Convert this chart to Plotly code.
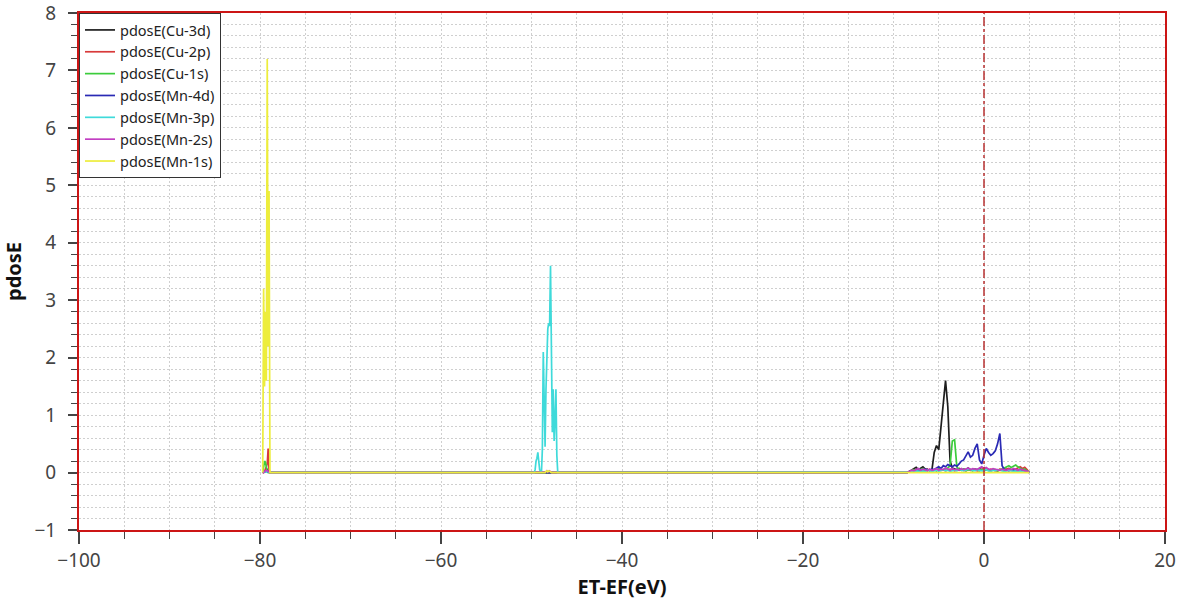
import plotly.graph_objects as go

# ---------------- data ----------------
SERIES_NAMES = ["pdosE(Cu-3d)", "pdosE(Cu-2p)", "pdosE(Cu-1s)", "pdosE(Mn-4d)",
                "pdosE(Mn-3p)", "pdosE(Mn-2s)", "pdosE(Mn-1s)"]
SERIES_COLORS = ["#1e1e1e", "#d83a3a", "#3ccc3c", "#2a2ab4", "#3fdada", "#c23fc2", "#eded3c"]

FERMI_LEVEL = 0.0

# deep core region energies (eV)
E_DEEP = [-79.7, -79.6, -79.5, -79.4, -79.3, -79.2, -79.1, -79.0, -78.9]
# semi-core region energies (eV)
E_SEMI = [-49.7, -49.6, -49.5, -49.4, -49.3, -49.2, -49.1, -49.0, -48.9, -48.8,
          -48.7, -48.6, -48.5, -48.4, -48.3, -48.2, -48.1, -48.0, -47.9, -47.8,
          -47.7, -47.6, -47.5, -47.4, -47.3, -47.2, -47.1, -47.0]
# valence region energies (eV)
E_VB = [-8.5, -8.25, -8.0, -7.75, -7.5, -7.25, -7.0, -6.75, -6.5, -6.25, -6.0,
        -5.75, -5.5, -5.25, -5.0, -4.75, -4.5, -4.25, -4.0, -3.75, -3.5, -3.25,
        -3.0, -2.75, -2.5, -2.25, -2.0, -1.75, -1.5, -1.25, -1.0, -0.75, -0.5,
        -0.25, 0.0, 0.25, 0.5, 0.75, 1.0, 1.25, 1.5, 1.75, 2.0, 2.25, 2.5, 2.75,
        3.0, 3.25, 3.5, 3.75, 4.0, 4.25, 4.5, 4.75, 5.0]

cu3d_deep = [0.0, 0.0, 0.01, 0.02, 0.03, 0.05, 0.02, 0.0, 0.0]
cu2p_deep = [0.0, 0.0, 0.02, 0.05, 0.1, 0.15, 0.42, 0.05, 0.0]
cu1s_deep = [0.0, 0.1, 0.2, 0.18, 0.05, 0.02, 0.0, 0.0, 0.0]
mn4d_deep = [0.0, 0.0, 0.01, 0.02, 0.03, 0.02, 0.01, 0.0, 0.0]
mn3p_deep = [0.0, 0.0, 0.01, 0.02, 0.01, 0.02, 0.01, 0.0, 0.0]
mn2s_deep = [0.0, 0.0, 0.02, 0.03, 0.04, 0.03, 0.02, 0.0, 0.0]
mn1s_deep = [0.0, 3.2, 1.5, 2.8, 1.6, 7.2, 2.2, 4.9, 0.0]

cu3d_semi = [0.0] * 28
cu2p_semi = [0.0] * 28
cu1s_semi = [0.0] * 28
mn4d_semi = [0.0] * 28
mn3p_semi = [0.0, 0.05, 0.2, 0.25, 0.35, 0.12, 0.05, 0.02, 0.0, 0.4,
             2.1, 1.3, 0.45, 1.45, 2.1, 2.5, 2.6, 2.55, 3.6, 2.0,
             0.7, 1.45, 0.55, 0.9, 1.45, 0.3, 0.0, 0.0]
mn2s_semi = [0.0, 0.0, 0.0, 0.0, 0.0, 0.0, 0.0, 0.0, 0.0, 0.0,
             0.0, 0.0, 0.0, 0.01, 0.03, 0.01, 0.02, 0.03, 0.01, 0.0,
             0.0, 0.0, 0.0, 0.0, 0.0, 0.0, 0.0, 0.0]
mn1s_semi = [0.0, 0.0, 0.0, 0.0, 0.0, 0.0, 0.0, 0.0, 0.0, 0.0,
             0.0, 0.0, 0.0, 0.02, 0.03, 0.01, 0.03, 0.02, 0.0, 0.0,
             0.0, 0.0, 0.0, 0.0, 0.0, 0.0, 0.0, 0.0]

cu3d_vb = [0.0, 0.02, 0.04, 0.06, 0.09, 0.05, 0.08, 0.1, 0.06, 0.05, 0.04,
           0.05, 0.35, 0.47, 0.4, 0.8, 1.22, 1.6, 1.15, 0.2, 0.08, 0.06,
           0.05, 0.07, 0.04, 0.06, 0.05, 0.08, 0.05, 0.04, 0.06, 0.05, 0.07,
           0.04, 0.03, 0.05, 0.04, 0.03, 0.05, 0.04, 0.03, 0.05, 0.04, 0.06,
           0.05, 0.07, 0.04, 0.05, 0.03, 0.04, 0.03, 0.02, 0.03, 0.02, 0.0]
cu2p_vb = [0.0, 0.01, 0.03, 0.05, 0.04, 0.06, 0.03, 0.05, 0.04, 0.06, 0.03,
           0.04, 0.05, 0.03, 0.06, 0.04, 0.05, 0.03, 0.04, 0.06, 0.05, 0.03,
           0.04, 0.06, 0.05, 0.04, 0.03, 0.05, 0.04, 0.06, 0.05, 0.03, 0.04,
           0.06, 0.08, 0.05, 0.04, 0.06, 0.05, 0.03, 0.04, 0.06, 0.05, 0.04,
           0.06, 0.07, 0.05, 0.04, 0.06, 0.08, 0.1, 0.07, 0.09, 0.05, 0.0]
cu1s_vb = [0.0, 0.02, 0.03, 0.05, 0.04, 0.06, 0.05, 0.07, 0.04, 0.03, 0.05,
           0.04, 0.05, 0.03, 0.06, 0.04, 0.05, 0.06, 0.08, 0.12, 0.55, 0.57,
           0.1, 0.05, 0.04, 0.06, 0.03, 0.05, 0.04, 0.03, 0.05, 0.04, 0.03,
           0.05, 0.04, 0.06, 0.05, 0.03, 0.04, 0.05, 0.03, 0.04, 0.06, 0.08,
           0.1, 0.12, 0.09, 0.11, 0.13, 0.1, 0.07, 0.05, 0.06, 0.03, 0.0]
mn4d_vb = [0.0, 0.02, 0.03, 0.02, 0.04, 0.03, 0.05, 0.04, 0.06, 0.05, 0.04,
           0.06, 0.05, 0.08, 0.1, 0.07, 0.12, 0.1, 0.14, 0.12, 0.1, 0.13,
           0.11, 0.15, 0.2, 0.22, 0.28, 0.36, 0.27, 0.3, 0.42, 0.5, 0.22,
           0.15, 0.3, 0.42, 0.35, 0.3, 0.33, 0.38, 0.5, 0.68, 0.12, 0.05,
           0.04, 0.03, 0.05, 0.04, 0.03, 0.02, 0.03, 0.02, 0.01, 0.02, 0.0]
mn3p_vb = [0.0, 0.01, 0.02, 0.01, 0.03, 0.02, 0.02, 0.03, 0.02, 0.04, 0.03,
           0.02, 0.03, 0.04, 0.02, 0.03, 0.05, 0.03, 0.04, 0.02, 0.03, 0.04,
           0.03, 0.05, 0.04, 0.03, 0.04, 0.06, 0.05, 0.04, 0.03, 0.05, 0.04,
           0.03, 0.04, 0.05, 0.03, 0.02, 0.04, 0.03, 0.05, 0.04, 0.03, 0.02,
           0.03, 0.04, 0.03, 0.02, 0.03, 0.02, 0.03, 0.02, 0.01, 0.02, 0.0]
mn2s_vb = [0.0, 0.02, 0.04, 0.03, 0.05, 0.07, 0.04, 0.06, 0.05, 0.03, 0.06,
           0.04, 0.05, 0.07, 0.04, 0.06, 0.05, 0.08, 0.06, 0.04, 0.07, 0.05,
           0.06, 0.04, 0.07, 0.05, 0.06, 0.08, 0.05, 0.07, 0.06, 0.05, 0.08,
           0.1, 0.07, 0.09, 0.06, 0.05, 0.07, 0.06, 0.05, 0.04, 0.06, 0.05,
           0.04, 0.06, 0.05, 0.07, 0.05, 0.04, 0.06, 0.05, 0.03, 0.02, 0.0]
mn1s_vb = [0.0, 0.0, 0.01, 0.0, 0.01, 0.0, 0.01, 0.0, 0.0, 0.01, 0.0,
           0.01, 0.0, 0.0, 0.01, 0.0, 0.01, 0.0, 0.0, 0.01, 0.0, 0.0,
           0.01, 0.0, 0.0, 0.01, 0.0, 0.0, 0.01, 0.0, 0.0, 0.01, 0.0,
           0.0, 0.01, 0.0, 0.0, 0.01, 0.0, 0.0, 0.01, 0.0, 0.0, 0.01,
           0.0, 0.0, 0.01, 0.0, 0.0, 0.01, 0.0, 0.0, 0.01, 0.0, 0.0]

X_TICKS = [-100, -80, -60, -40, -20, 0, 20]
Y_TICKS = [-1, 0, 1, 2, 3, 4, 5, 6, 7, 8]

# ---------------- figure ----------------
energy = E_DEEP + E_SEMI + E_VB
series_values = [
    cu3d_deep + cu3d_semi + cu3d_vb,
    cu2p_deep + cu2p_semi + cu2p_vb,
    cu1s_deep + cu1s_semi + cu1s_vb,
    mn4d_deep + mn4d_semi + mn4d_vb,
    mn3p_deep + mn3p_semi + mn3p_vb,
    mn2s_deep + mn2s_semi + mn2s_vb,
    mn1s_deep + mn1s_semi + mn1s_vb,
]

fig = go.Figure()
for name, color, vals in zip(SERIES_NAMES, SERIES_COLORS, series_values):
    assert len(vals) == len(energy), name
    fig.add_trace(go.Scatter(
        x=energy, y=vals, mode="lines", name=name,
        line=dict(color=color, width=1.7),
    ))

fig.add_shape(type="line", xref="x", yref="paper",
              x0=FERMI_LEVEL, x1=FERMI_LEVEL, y0=0, y1=1,
              line=dict(color="#b83232", width=1.5, dash="dashdot"))

FONT = "Noto Sans, Open Sans, DejaVu Sans, sans-serif"
GRID = "#cfcfcf"
FRAME = "#cc1515"

fig.update_layout(
    width=1183, height=609,
    margin=dict(l=79, r=18, t=13, b=79),
    paper_bgcolor="white", plot_bgcolor="white",
    font=dict(family=FONT, color="#444"),
    showlegend=True,
    legend=dict(
        x=0, y=1, xanchor="left", yanchor="top",
        bgcolor="white", bordercolor="#333", borderwidth=1,
        font=dict(family=FONT, size=14.5, color="#222"),
        tracegroupgap=0,
    ),
    xaxis=dict(
        range=[-100, 20], tickvals=X_TICKS, automargin=False,
        ticks="outside", ticklen=12, tickwidth=1.5, tickcolor="#444",
        tickfont=dict(size=19, color="#444"), ticklabeloverflow="allow",
        showgrid=True, gridcolor=GRID, griddash="2px,2px", gridwidth=1,
        minor=dict(dtick=5, ticks="outside", ticklen=7, tickwidth=1.2, tickcolor="#444",
                   showgrid=True, gridcolor=GRID, griddash="2px,2px", gridwidth=1),
        showline=True, linecolor=FRAME, linewidth=2, mirror=True,
        zeroline=False,
        title=dict(text="<b>ET-EF(eV)</b>", font=dict(size=20, color="#111"), standoff=8),
    ),
    yaxis=dict(
        range=[-1, 8], tickvals=Y_TICKS, automargin=False,
        ticks="outside", ticklen=9, tickwidth=1.5, tickcolor="#444",
        tickfont=dict(size=19, color="#444"), ticklabelstandoff=8,
        ticklabeloverflow="allow",
        showgrid=True, gridcolor=GRID, griddash="2px,2px", gridwidth=1,
        minor=dict(dtick=0.2, ticks="outside", ticklen=6, tickwidth=1.2, tickcolor="#444",
                   showgrid=True, gridcolor=GRID, griddash="2px,2px", gridwidth=1),
        showline=True, linecolor=FRAME, linewidth=2, mirror=True,
        zeroline=False,
        title=dict(text="<b>pdosE</b>", font=dict(size=20, color="#111"), standoff=10),
    ),
)

fig.write_html(
    "out.html",
    config={"displayModeBar": False},
    post_script="document.body.style.margin='0';document.body.style.padding='0';",
)
